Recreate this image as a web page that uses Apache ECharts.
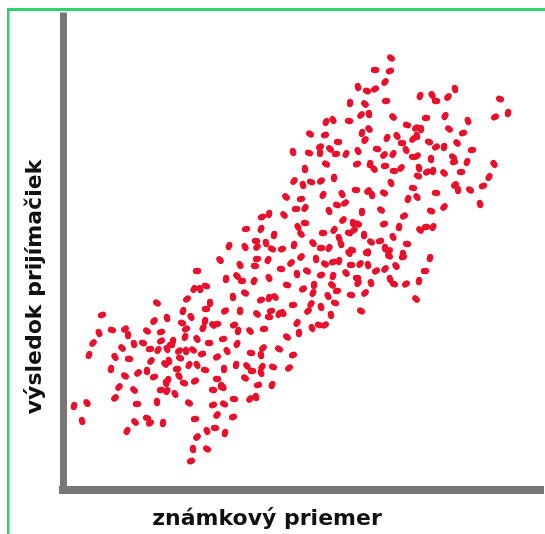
<!DOCTYPE html>
<html>
<head>
<meta charset="utf-8">
<script src="https://cdn.jsdelivr.net/npm/echarts@6/dist/echarts.min.js"></script>
<style>
  html, body { margin: 0; padding: 0; background: #fff; }
  #chart { width: 545px; height: 534px; }
</style>
</head>
<body>
<div id="chart"></div>
<script>
// body: [známkový priemer, výsledok prijímačiek] - odčítané z obrázka (ľubovoľné jednotky)
var gradeAvg = [
  375,385,358,367,375,350,365,386,326,333,349,361,369,310,325,362,369,338,365,293,
  309,320,320,330,336,346,358,377,384,305,326,357,370,374,385,294,303,311,321,334,
  286,301,323,342,356,368,372,384,262,269,284,296,305,329,337,345,362,381,246,261,
  298,305,343,353,358,384,274,301,323,334,339,349,354,364,371,380,229,245,256,257,
  266,272,282,294,313,321,329,341,352,367,385,
  391,390,420,432,436,448,455,500,495,508,393,426,445,468,407,416,421,449,463,387,
  397,402,413,417,429,436,444,457,472,393,406,413,417,431,453,454,467,494,394,401,
  419,418,427,433,444,461,489,391,413,455,458,470,483,408,417,436,444,480,431,404,
  399,420,426,433,393,407,389,403,
  389,403,430,396,425,385,390,394,406,419,416,
  257,268,240,255,301,316,325,333,339,349,351,360,368,367,376,226,237,242,254,269,
  281,291,297,307,321,333,346,357,358,371,287,303,314,332,337,313,328,351,365,233,
  245,261,269,275,293,311,321,335,225,240,257,271,279,283,269,308,331,361,234,238,
  250,264,297,312,319,325,299,287,223,237,227,251,263,261,279,293,236,247,252,262,
  261,273,289,224,245,258,272,223,234,250,256,224,233,225,
  220,197,194,200,206,187,210,157,102,183,191,206,154,167,182,186,205,213,217,203,
  99,112,125,128,147,161,185,197,209,93,134,143,161,173,122,150,158,167,171,179,
  186,193,202,89,115,129,151,169,180,217,111,165,177,189,197,205,138,147,125,154,
  168,179,217,119,166,184,195,221,134,161,167,175,213,115,157,189,213,74,87,137,
  217,82,147,150,163,135,195,127,207,215,197,193,207,191
];
var examScore = [
  430,418,413,409,411,397,396,399,378,380,379,385,386,366,365,367,371,358,360,348,
  347,353,347,351,346,346,349,351,345,331,336,336,336,331,334,319,315,318,319,322,
  303,301,305,306,310,309,305,307,283,286,285,291,292,289,295,297,288,290,271,271,
  273,277,280,277,276,276,265,266,267,270,262,267,270,265,258,259,254,253,259,253,
  257,251,251,255,257,252,252,256,250,248,252,
  442,429,404,405,399,403,411,401,383,387,383,382,384,379,375,372,371,371,367,362,
  364,357,361,364,358,353,353,357,350,346,350,343,344,341,343,338,338,336,329,332,
  332,324,328,329,327,328,323,317,312,315,310,310,314,301,303,307,293,296,289,284,
  273,270,273,273,263,256,249,246,
  244,243,242,234,229,231,221,216,216,219,201,
  241,240,235,234,243,241,236,238,239,247,235,236,235,247,229,221,224,219,219,222,
  231,237,226,229,225,224,227,222,217,217,215,211,215,215,209,207,204,205,207,203,
  207,200,202,203,195,196,193,197,189,189,186,189,186,187,183,189,185,189,175,169,
  169,171,177,172,175,175,167,163,161,156,149,147,152,145,151,145,135,134,129,133,
  127,133,132,131,122,115,115,113,101,101,103,96,83,67,
  240,229,211,211,214,201,197,197,185,189,183,191,179,182,177,171,179,175,176,172,
  167,170,171,165,169,168,163,161,157,157,156,157,159,159,152,151,150,151,155,149,
  149,150,146,145,143,141,139,139,142,143,131,136,131,135,135,130,127,129,124,123,
  120,124,121,113,117,117,119,114,110,110,109,106,110,102,98,97,95,94,97,96,
  85,79,82,77,77,78,81,69,69,72,63,51,51,39
];

var points = gradeAvg.map(function (g, i) { return [g, examScore[i]]; });

var chart = echarts.init(document.getElementById('chart'), null, { renderer: 'canvas' });
var font = '"DejaVu Sans", sans-serif';

chart.setOption({
  backgroundColor: '#fff',
  animation: false,
  grid: { left: 63, right: 5, top: 16, bottom: 44 },
  xAxis: {
    type: 'value', min: 63, max: 540,
    axisLine: { lineStyle: { color: '#777', width: 8, cap: 'square' } },
    axisTick: { show: false }, axisLabel: { show: false }, splitLine: { show: false }
  },
  yAxis: {
    type: 'value', min: 10, max: 484,
    axisLine: { lineStyle: { color: '#777', width: 7, cap: 'square' } },
    axisTick: { show: false }, axisLabel: { show: false }, splitLine: { show: false }
  },
  series: [{
    type: 'scatter',
    data: points,
    symbol: 'path://M0,3 A4.5,3 0 1 1 9,3 A4.5,3 0 1 1 0,3 Z',
    symbolSize: [8.5, 6.4],
    symbolRotate: function (val, params) { return (params.dataIndex * 53) % 180; },
    itemStyle: { color: '#e8102a', opacity: 1 }
  }],
  graphic: [
    // zelený rámik (hore a vľavo)
    { type: 'rect', shape: { x: 7, y: 8, width: 538, height: 3 }, style: { fill: '#2bd46e' } },
    { type: 'rect', shape: { x: 7, y: 8, width: 2.5, height: 526 }, style: { fill: '#2bd46e' } },
    {
      type: 'text', x: 267, y: 519,
      style: { text: 'známkový priemer', font: 'bold 22px ' + font, fill: '#111', align: 'center', verticalAlign: 'middle' }
    },
    {
      type: 'text', x: 35, y: 287, rotation: Math.PI / 2,
      style: { text: 'výsledok prijímačiek', font: 'bold 22px ' + font, fill: '#111', align: 'center', verticalAlign: 'middle' }
    }
  ]
});
</script>
</body>
</html>
